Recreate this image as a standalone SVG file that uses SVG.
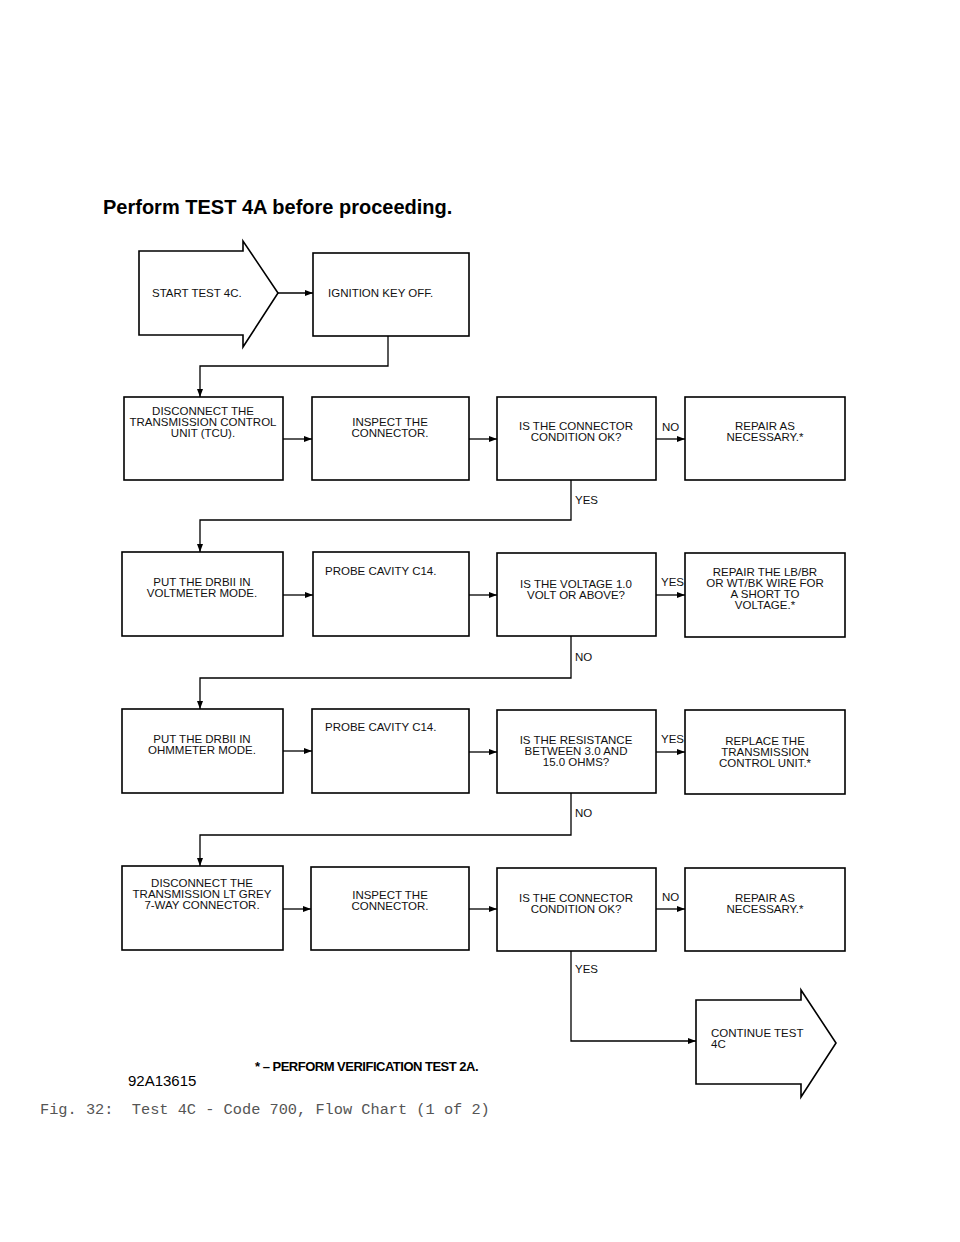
<svg xmlns="http://www.w3.org/2000/svg" width="960" height="1242" viewBox="0 0 960 1242">
<defs>
<marker id="ah" markerWidth="8" markerHeight="6" refX="8" refY="3" orient="auto" markerUnits="userSpaceOnUse"><path d="M0,0 L8,3 L0,6 Z" fill="#000"/></marker>
<style>
.b{fill:#fff;stroke:#000;stroke-width:1.6}
.c{fill:none;stroke:#000;stroke-width:1.3;marker-end:url(#ah)}
.t{font-family:"Liberation Sans",Arial,sans-serif;font-size:11.5px;fill:#111;text-anchor:middle}
.tl{font-family:"Liberation Sans",Arial,sans-serif;font-size:11.5px;fill:#111}
</style>
</defs>
<rect width="960" height="1242" fill="#fff"/>
<text x="103" y="214" font-family="Liberation Sans,Arial,sans-serif" font-weight="bold" font-size="20" fill="#000">Perform TEST 4A before proceeding.</text>
<g id="start"><path class="b" d="M139,251 H243 V241 L278,293 L243,347 V335 H139 Z"/><text class="tl" x="152" y="297">START TEST 4C.</text></g>
<g id="ign"><rect class="b" x="313" y="253" width="156" height="83"/><text class="tl" x="328" y="297">IGNITION KEY OFF.</text></g>
<g id="r1a"><rect class="b" x="124" y="397" width="159" height="83"/><text class="t" x="203" y="415">DISCONNECT THE</text><text class="t" x="203" y="426">TRANSMISSION CONTROL</text><text class="t" x="203" y="437">UNIT (TCU).</text></g>
<g id="r1b"><rect class="b" x="312" y="397" width="157" height="83"/><text class="t" x="390" y="426">INSPECT THE</text><text class="t" x="390" y="437">CONNECTOR.</text></g>
<g id="r1c"><rect class="b" x="497" y="397" width="159" height="83"/><text class="t" x="576" y="430">IS THE CONNECTOR</text><text class="t" x="576" y="441">CONDITION OK?</text></g>
<g id="r1d"><rect class="b" x="685" y="397" width="160" height="83"/><text class="t" x="765" y="430">REPAIR AS</text><text class="t" x="765" y="441">NECESSARY.*</text></g>
<g id="r2a"><rect class="b" x="122" y="552" width="161" height="84"/><text class="t" x="202" y="586">PUT THE DRBII IN</text><text class="t" x="202" y="597">VOLTMETER MODE.</text></g>
<g id="r2b"><rect class="b" x="313" y="552" width="156" height="84"/><text class="tl" x="325" y="575">PROBE CAVITY C14.</text></g>
<g id="r2c"><rect class="b" x="497" y="553" width="159" height="83"/><text class="t" x="576" y="588">IS THE VOLTAGE 1.0</text><text class="t" x="576" y="599">VOLT OR ABOVE?</text></g>
<g id="r2d"><rect class="b" x="685" y="553" width="160" height="84"/><text class="t" x="765" y="576">REPAIR THE LB/BR</text><text class="t" x="765" y="587">OR WT/BK WIRE FOR</text><text class="t" x="765" y="598">A SHORT TO</text><text class="t" x="765" y="609">VOLTAGE.*</text></g>
<g id="r3a"><rect class="b" x="122" y="709" width="161" height="84"/><text class="t" x="202" y="743">PUT THE DRBII IN</text><text class="t" x="202" y="754">OHMMETER MODE.</text></g>
<g id="r3b"><rect class="b" x="312" y="709" width="157" height="84"/><text class="tl" x="325" y="731">PROBE CAVITY C14.</text></g>
<g id="r3c"><rect class="b" x="497" y="710" width="159" height="83"/><text class="t" x="576" y="744">IS THE RESISTANCE</text><text class="t" x="576" y="755">BETWEEN 3.0 AND</text><text class="t" x="576" y="766">15.0 OHMS?</text></g>
<g id="r3d"><rect class="b" x="685" y="710" width="160" height="84"/><text class="t" x="765" y="745">REPLACE THE</text><text class="t" x="765" y="756">TRANSMISSION</text><text class="t" x="765" y="767">CONTROL UNIT.*</text></g>
<g id="r4a"><rect class="b" x="122" y="866" width="161" height="84"/><text class="t" x="202" y="887">DISCONNECT THE</text><text class="t" x="202" y="898">TRANSMISSION LT GREY</text><text class="t" x="202" y="909">7-WAY CONNECTOR.</text></g>
<g id="r4b"><rect class="b" x="311" y="867" width="158" height="83"/><text class="t" x="390" y="899">INSPECT THE</text><text class="t" x="390" y="910">CONNECTOR.</text></g>
<g id="r4c"><rect class="b" x="497" y="868" width="159" height="83"/><text class="t" x="576" y="902">IS THE CONNECTOR</text><text class="t" x="576" y="913">CONDITION OK?</text></g>
<g id="r4d"><rect class="b" x="685" y="868" width="160" height="83"/><text class="t" x="765" y="902">REPAIR AS</text><text class="t" x="765" y="913">NECESSARY.*</text></g>
<g id="cont"><path class="b" d="M696,1000 H801 V990 L836,1043 L801,1097 V1084 H696 Z"/><text class="tl" x="711" y="1037">CONTINUE TEST</text><text class="tl" x="711" y="1048">4C</text></g>
<g id="connectors">
<path class="c" d="M278,293 H313"/>
<path class="c" d="M388,336 V366 H200 V397"/>
<path class="c" d="M283,439 H312"/><path class="c" d="M469,439 H497"/><path class="c" d="M656,439 H685"/>
<path class="c" d="M571,480 V520 H200 V552"/>
<path class="c" d="M283,595 H313"/><path class="c" d="M469,595 H497"/><path class="c" d="M656,595 H685"/>
<path class="c" d="M571,636 V678 H200 V709"/>
<path class="c" d="M283,751 H312"/><path class="c" d="M469,752 H497"/><path class="c" d="M656,752 H685"/>
<path class="c" d="M571,793 V835 H200 V866"/>
<path class="c" d="M283,909 H311"/><path class="c" d="M469,909 H497"/><path class="c" d="M656,909 H685"/>
<path class="c" d="M571,951 V1041 H696"/>
<text class="tl" x="662" y="431">NO</text>
<text class="tl" x="575" y="504">YES</text>
<text class="tl" x="661" y="586">YES</text>
<text class="tl" x="575" y="661">NO</text>
<text class="tl" x="661" y="743">YES</text>
<text class="tl" x="575" y="817">NO</text>
<text class="tl" x="662" y="901">NO</text>
<text class="tl" x="575" y="973">YES</text>
</g>
<text x="255" y="1071" font-family="Liberation Sans,Arial,sans-serif" font-weight="bold" font-size="13" letter-spacing="-0.5" fill="#000">* – PERFORM VERIFICATION TEST 2A.</text>
<text x="128" y="1086" font-family="Liberation Sans,Arial,sans-serif" font-size="15" fill="#000">92A13615</text>
<text x="40" y="1114" font-family="Liberation Mono,Courier New,monospace" font-size="15.3" fill="#555" xml:space="preserve">Fig. 32:  Test 4C - Code 700, Flow Chart (1 of 2)</text>
</svg>
